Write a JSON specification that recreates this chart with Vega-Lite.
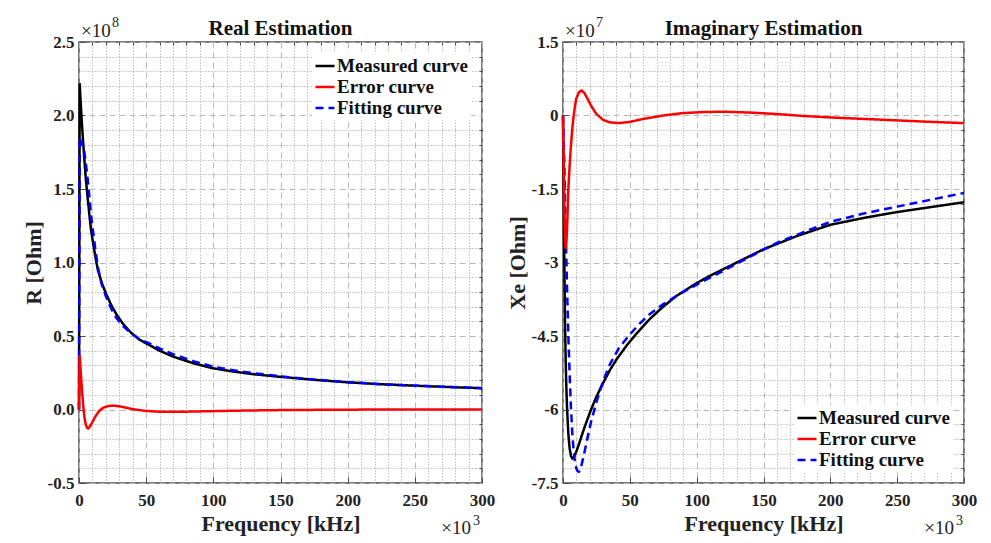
{
  "$schema": "https://vega.github.io/schema/vega-lite/v6.json",
  "padding": {"left": 21, "top": 15, "right": 5, "bottom": 2},
  "background": "white",
  "datasets": {
    "real": [
      {"series": "Measured curve", "freq": 0, "value": 0},
      {"series": "Measured curve", "freq": 0.5, "value": 2.22},
      {"series": "Measured curve", "freq": 1, "value": 2.13},
      {"series": "Measured curve", "freq": 2, "value": 1.97},
      {"series": "Measured curve", "freq": 3, "value": 1.83},
      {"series": "Measured curve", "freq": 4, "value": 1.70},
      {"series": "Measured curve", "freq": 5, "value": 1.58},
      {"series": "Measured curve", "freq": 6, "value": 1.48},
      {"series": "Measured curve", "freq": 7, "value": 1.39},
      {"series": "Measured curve", "freq": 8, "value": 1.30},
      {"series": "Measured curve", "freq": 9, "value": 1.22},
      {"series": "Measured curve", "freq": 10, "value": 1.16},
      {"series": "Measured curve", "freq": 12, "value": 1.05},
      {"series": "Measured curve", "freq": 14, "value": 0.95},
      {"series": "Measured curve", "freq": 17, "value": 0.86},
      {"series": "Measured curve", "freq": 20, "value": 0.79},
      {"series": "Measured curve", "freq": 24, "value": 0.71},
      {"series": "Measured curve", "freq": 28, "value": 0.645},
      {"series": "Measured curve", "freq": 33, "value": 0.58},
      {"series": "Measured curve", "freq": 39, "value": 0.52},
      {"series": "Measured curve", "freq": 45, "value": 0.475},
      {"series": "Measured curve", "freq": 52, "value": 0.44},
      {"series": "Measured curve", "freq": 60, "value": 0.40},
      {"series": "Measured curve", "freq": 70, "value": 0.36},
      {"series": "Measured curve", "freq": 85, "value": 0.315},
      {"series": "Measured curve", "freq": 100, "value": 0.28},
      {"series": "Measured curve", "freq": 115, "value": 0.258},
      {"series": "Measured curve", "freq": 130, "value": 0.24},
      {"series": "Measured curve", "freq": 150, "value": 0.222},
      {"series": "Measured curve", "freq": 175, "value": 0.202},
      {"series": "Measured curve", "freq": 200, "value": 0.185},
      {"series": "Measured curve", "freq": 225, "value": 0.172},
      {"series": "Measured curve", "freq": 250, "value": 0.162},
      {"series": "Measured curve", "freq": 275, "value": 0.153},
      {"series": "Measured curve", "freq": 300, "value": 0.145},
      {"series": "Fitting curve", "freq": 0, "value": 0},
      {"series": "Fitting curve", "freq": 0.5, "value": 1.85},
      {"series": "Fitting curve", "freq": 1, "value": 1.83},
      {"series": "Fitting curve", "freq": 2, "value": 1.81},
      {"series": "Fitting curve", "freq": 3, "value": 1.79},
      {"series": "Fitting curve", "freq": 4, "value": 1.75},
      {"series": "Fitting curve", "freq": 5, "value": 1.68},
      {"series": "Fitting curve", "freq": 6, "value": 1.605},
      {"series": "Fitting curve", "freq": 7, "value": 1.52},
      {"series": "Fitting curve", "freq": 8, "value": 1.42},
      {"series": "Fitting curve", "freq": 9, "value": 1.32},
      {"series": "Fitting curve", "freq": 10, "value": 1.245},
      {"series": "Fitting curve", "freq": 12, "value": 1.10},
      {"series": "Fitting curve", "freq": 14, "value": 0.97},
      {"series": "Fitting curve", "freq": 17, "value": 0.85},
      {"series": "Fitting curve", "freq": 20, "value": 0.77},
      {"series": "Fitting curve", "freq": 24, "value": 0.686},
      {"series": "Fitting curve", "freq": 28, "value": 0.62},
      {"series": "Fitting curve", "freq": 33, "value": 0.565},
      {"series": "Fitting curve", "freq": 39, "value": 0.516},
      {"series": "Fitting curve", "freq": 45, "value": 0.48},
      {"series": "Fitting curve", "freq": 52, "value": 0.451},
      {"series": "Fitting curve", "freq": 60, "value": 0.415},
      {"series": "Fitting curve", "freq": 70, "value": 0.376},
      {"series": "Fitting curve", "freq": 85, "value": 0.329},
      {"series": "Fitting curve", "freq": 100, "value": 0.291},
      {"series": "Fitting curve", "freq": 115, "value": 0.267},
      {"series": "Fitting curve", "freq": 130, "value": 0.247},
      {"series": "Fitting curve", "freq": 150, "value": 0.226},
      {"series": "Fitting curve", "freq": 175, "value": 0.204},
      {"series": "Fitting curve", "freq": 200, "value": 0.186},
      {"series": "Fitting curve", "freq": 225, "value": 0.172},
      {"series": "Fitting curve", "freq": 250, "value": 0.162},
      {"series": "Fitting curve", "freq": 275, "value": 0.153},
      {"series": "Fitting curve", "freq": 300, "value": 0.145},
      {"series": "Error curve", "freq": 0, "value": 0},
      {"series": "Error curve", "freq": 0.5, "value": 0.37},
      {"series": "Error curve", "freq": 1, "value": 0.30},
      {"series": "Error curve", "freq": 2, "value": 0.16},
      {"series": "Error curve", "freq": 3, "value": 0.04},
      {"series": "Error curve", "freq": 4, "value": -0.05},
      {"series": "Error curve", "freq": 5, "value": -0.10},
      {"series": "Error curve", "freq": 6, "value": -0.125},
      {"series": "Error curve", "freq": 7, "value": -0.128},
      {"series": "Error curve", "freq": 8, "value": -0.118},
      {"series": "Error curve", "freq": 10, "value": -0.085},
      {"series": "Error curve", "freq": 12, "value": -0.05},
      {"series": "Error curve", "freq": 15, "value": -0.01},
      {"series": "Error curve", "freq": 18, "value": 0.012},
      {"series": "Error curve", "freq": 22, "value": 0.024},
      {"series": "Error curve", "freq": 26, "value": 0.026},
      {"series": "Error curve", "freq": 30, "value": 0.022},
      {"series": "Error curve", "freq": 35, "value": 0.012},
      {"series": "Error curve", "freq": 40, "value": 0.002},
      {"series": "Error curve", "freq": 50, "value": -0.01},
      {"series": "Error curve", "freq": 60, "value": -0.015},
      {"series": "Error curve", "freq": 70, "value": -0.016},
      {"series": "Error curve", "freq": 85, "value": -0.014},
      {"series": "Error curve", "freq": 100, "value": -0.011},
      {"series": "Error curve", "freq": 125, "value": -0.007},
      {"series": "Error curve", "freq": 150, "value": -0.004},
      {"series": "Error curve", "freq": 200, "value": -0.001},
      {"series": "Error curve", "freq": 250, "value": 0.0},
      {"series": "Error curve", "freq": 300, "value": 0.0}
    ],
    "imag": [
      {"series": "Measured curve", "freq": 0, "value": 0},
      {"series": "Measured curve", "freq": 0.5, "value": -1.6},
      {"series": "Measured curve", "freq": 1, "value": -3.0},
      {"series": "Measured curve", "freq": 1.5, "value": -4.2},
      {"series": "Measured curve", "freq": 2, "value": -5.0},
      {"series": "Measured curve", "freq": 2.5, "value": -5.55},
      {"series": "Measured curve", "freq": 3, "value": -5.95},
      {"series": "Measured curve", "freq": 4, "value": -6.5},
      {"series": "Measured curve", "freq": 5, "value": -6.8},
      {"series": "Measured curve", "freq": 6, "value": -6.95},
      {"series": "Measured curve", "freq": 7, "value": -7.0},
      {"series": "Measured curve", "freq": 8, "value": -6.98},
      {"series": "Measured curve", "freq": 10, "value": -6.86},
      {"series": "Measured curve", "freq": 12, "value": -6.7},
      {"series": "Measured curve", "freq": 15, "value": -6.45},
      {"series": "Measured curve", "freq": 18, "value": -6.22},
      {"series": "Measured curve", "freq": 21, "value": -6.0},
      {"series": "Measured curve", "freq": 25, "value": -5.74},
      {"series": "Measured curve", "freq": 30, "value": -5.46},
      {"series": "Measured curve", "freq": 35, "value": -5.2},
      {"series": "Measured curve", "freq": 40, "value": -4.98},
      {"series": "Measured curve", "freq": 48, "value": -4.68},
      {"series": "Measured curve", "freq": 55, "value": -4.45},
      {"series": "Measured curve", "freq": 65, "value": -4.15},
      {"series": "Measured curve", "freq": 75, "value": -3.9},
      {"series": "Measured curve", "freq": 85, "value": -3.68},
      {"series": "Measured curve", "freq": 100, "value": -3.42},
      {"series": "Measured curve", "freq": 110, "value": -3.27},
      {"series": "Measured curve", "freq": 130, "value": -3.0},
      {"series": "Measured curve", "freq": 150, "value": -2.73},
      {"series": "Measured curve", "freq": 175, "value": -2.46},
      {"series": "Measured curve", "freq": 200, "value": -2.23},
      {"series": "Measured curve", "freq": 225, "value": -2.09},
      {"series": "Measured curve", "freq": 250, "value": -1.97},
      {"series": "Measured curve", "freq": 275, "value": -1.87},
      {"series": "Measured curve", "freq": 300, "value": -1.77},
      {"series": "Fitting curve", "freq": 0, "value": 0},
      {"series": "Fitting curve", "freq": 0.5, "value": -0.5},
      {"series": "Fitting curve", "freq": 1, "value": -1.0},
      {"series": "Fitting curve", "freq": 2, "value": -2.3},
      {"series": "Fitting curve", "freq": 3, "value": -3.5},
      {"series": "Fitting curve", "freq": 4, "value": -4.5},
      {"series": "Fitting curve", "freq": 5, "value": -5.3},
      {"series": "Fitting curve", "freq": 6, "value": -6.0},
      {"series": "Fitting curve", "freq": 7, "value": -6.5},
      {"series": "Fitting curve", "freq": 8, "value": -6.85},
      {"series": "Fitting curve", "freq": 9, "value": -7.08},
      {"series": "Fitting curve", "freq": 10, "value": -7.2},
      {"series": "Fitting curve", "freq": 11, "value": -7.26},
      {"series": "Fitting curve", "freq": 12, "value": -7.27},
      {"series": "Fitting curve", "freq": 13, "value": -7.22},
      {"series": "Fitting curve", "freq": 14, "value": -7.12},
      {"series": "Fitting curve", "freq": 16, "value": -6.88},
      {"series": "Fitting curve", "freq": 18, "value": -6.62},
      {"series": "Fitting curve", "freq": 21, "value": -6.25},
      {"series": "Fitting curve", "freq": 25, "value": -5.85},
      {"series": "Fitting curve", "freq": 30, "value": -5.42},
      {"series": "Fitting curve", "freq": 35, "value": -5.08},
      {"series": "Fitting curve", "freq": 42, "value": -4.74},
      {"series": "Fitting curve", "freq": 50, "value": -4.47},
      {"series": "Fitting curve", "freq": 57.6, "value": -4.24},
      {"series": "Fitting curve", "freq": 65, "value": -4.05},
      {"series": "Fitting curve", "freq": 75, "value": -3.85},
      {"series": "Fitting curve", "freq": 90, "value": -3.6},
      {"series": "Fitting curve", "freq": 105, "value": -3.38},
      {"series": "Fitting curve", "freq": 120, "value": -3.17},
      {"series": "Fitting curve", "freq": 140, "value": -2.88},
      {"series": "Fitting curve", "freq": 160, "value": -2.6},
      {"series": "Fitting curve", "freq": 180, "value": -2.38},
      {"series": "Fitting curve", "freq": 200, "value": -2.17},
      {"series": "Fitting curve", "freq": 225, "value": -2.0},
      {"series": "Fitting curve", "freq": 250, "value": -1.86},
      {"series": "Fitting curve", "freq": 275, "value": -1.72},
      {"series": "Fitting curve", "freq": 300, "value": -1.58},
      {"series": "Error curve", "freq": 0, "value": 0},
      {"series": "Error curve", "freq": 0.5, "value": -1.0},
      {"series": "Error curve", "freq": 1, "value": -1.9},
      {"series": "Error curve", "freq": 1.5, "value": -2.5},
      {"series": "Error curve", "freq": 2, "value": -2.72},
      {"series": "Error curve", "freq": 2.5, "value": -2.6},
      {"series": "Error curve", "freq": 3, "value": -2.35},
      {"series": "Error curve", "freq": 4, "value": -1.5},
      {"series": "Error curve", "freq": 5, "value": -1.0},
      {"series": "Error curve", "freq": 6, "value": -0.6},
      {"series": "Error curve", "freq": 7, "value": -0.25},
      {"series": "Error curve", "freq": 8, "value": 0.0},
      {"series": "Error curve", "freq": 9, "value": 0.2},
      {"series": "Error curve", "freq": 10, "value": 0.35},
      {"series": "Error curve", "freq": 12, "value": 0.48},
      {"series": "Error curve", "freq": 14, "value": 0.51},
      {"series": "Error curve", "freq": 16, "value": 0.46},
      {"series": "Error curve", "freq": 18, "value": 0.36},
      {"series": "Error curve", "freq": 21, "value": 0.2},
      {"series": "Error curve", "freq": 25, "value": 0.03},
      {"series": "Error curve", "freq": 30, "value": -0.09},
      {"series": "Error curve", "freq": 35, "value": -0.14},
      {"series": "Error curve", "freq": 42, "value": -0.155},
      {"series": "Error curve", "freq": 50, "value": -0.13},
      {"series": "Error curve", "freq": 60, "value": -0.07},
      {"series": "Error curve", "freq": 75, "value": 0.0},
      {"series": "Error curve", "freq": 90, "value": 0.05},
      {"series": "Error curve", "freq": 105, "value": 0.07},
      {"series": "Error curve", "freq": 120, "value": 0.078},
      {"series": "Error curve", "freq": 140, "value": 0.06},
      {"series": "Error curve", "freq": 160, "value": 0.03},
      {"series": "Error curve", "freq": 180, "value": -0.01},
      {"series": "Error curve", "freq": 200, "value": -0.04},
      {"series": "Error curve", "freq": 225, "value": -0.07},
      {"series": "Error curve", "freq": 250, "value": -0.1},
      {"series": "Error curve", "freq": 275, "value": -0.13},
      {"series": "Error curve", "freq": 300, "value": -0.155}
    ]
  },
  "hconcat": [
    {
      "width": 403,
      "height": 441,
      "title": {"text": "Real Estimation"},
      "layer": [
        {
          "data": {"name": "real"},
          "mark": {"type": "line", "opacity": 0},
          "encoding": {
            "x": {"field": "freq", "type": "quantitative", "scale": {"domain": [0, 300], "nice": false, "zero": false},
              "axis": {"orient": "top", "values": [10,20,30,40,60,70,80,90,110,120,130,140,160,170,180,190,210,220,230,240,260,270,280,290], "grid": true, "gridDash": [1, 2], "gridColor": "#9a9a9a", "labels": false, "tickSize": -3, "title": null}},
            "y": {"field": "value", "type": "quantitative", "scale": {"domain": [-0.5, 2.5], "nice": false, "zero": false},
              "axis": {"orient": "right", "values": [-0.4,-0.3,-0.2,-0.1,0.1,0.2,0.3,0.4,0.6,0.7,0.8,0.9,1.1,1.2,1.3,1.4,1.6,1.7,1.8,1.9,2.1,2.2,2.3,2.4], "grid": true, "gridDash": [1, 2], "gridColor": "#9a9a9a", "labels": false, "tickSize": -3, "title": null}}
          }
        },
        {
          "data": {"name": "real"},
          "mark": {"type": "line", "strokeWidth": 2.5},
          "encoding": {
            "x": {"field": "freq", "type": "quantitative", "scale": {"domain": [0, 300], "nice": false, "zero": false},
              "axis": {"orient": "bottom", "values": [0,50,100,150,200,250,300], "grid": true, "gridDash": [6, 4], "gridColor": "#b8b8b8", "tickSize": -6, "labelPadding": 15, "title": "Frequency [kHz]", "titlePadding": 5}},
            "y": {"field": "value", "type": "quantitative", "scale": {"domain": [-0.5, 2.5], "nice": false, "zero": false},
              "axis": {"orient": "left", "values": [-0.5,0,0.5,1,1.5,2,2.5], "labelExpr": "replace(format(datum.value, '.1f'), '\u2212', '-')", "grid": true, "gridDash": [6, 4], "gridColor": "#b8b8b8", "tickSize": -6, "labelPadding": 11, "title": "R [Ohm]", "titlePadding": 2}},
            "color": {"field": "series", "type": "nominal", "scale": {"domain": ["Measured curve", "Error curve", "Fitting curve"], "range": ["#000000", "#ff0000", "#0000ff"]},
              "legend": {"title": null, "orient": "top-right", "offset": 11}},
            "strokeDash": {"field": "series", "type": "nominal", "scale": {"domain": ["Measured curve", "Error curve", "Fitting curve"], "range": [[1, 0], [1, 0], [8, 5]]},
              "legend": {"title": null, "orient": "top-right", "offset": 11}}
          }
        },
        {
          "data": {"values": [{"freq": 0, "value": 2.5}]},
          "mark": {"type": "text", "text": "×10", "align": "left", "baseline": "alphabetic", "dx": 2, "dy": -5, "fontSize": 19, "color": "#222222"},
          "encoding": {
            "x": {"field": "freq", "type": "quantitative", "axis": null},
            "y": {"field": "value", "type": "quantitative", "axis": null}
          }
        },
        {
          "data": {"values": [{"freq": 0, "value": 2.5}]},
          "mark": {"type": "text", "text": "8", "align": "left", "baseline": "alphabetic", "dx": 33, "dy": -15, "fontSize": 14, "color": "#222222"},
          "encoding": {
            "x": {"field": "freq", "type": "quantitative", "axis": null},
            "y": {"field": "value", "type": "quantitative", "axis": null}
          }
        },
        {
          "data": {"values": [{"freq": 300, "value": -0.5}]},
          "mark": {"type": "text", "text": "×10", "align": "right", "baseline": "alphabetic", "dx": -11, "dy": 51, "fontSize": 19, "color": "#222222"},
          "encoding": {
            "x": {"field": "freq", "type": "quantitative", "axis": null},
            "y": {"field": "value", "type": "quantitative", "axis": null}
          }
        },
        {
          "data": {"values": [{"freq": 300, "value": -0.5}]},
          "mark": {"type": "text", "text": "3", "align": "right", "baseline": "alphabetic", "dx": -2, "dy": 42, "fontSize": 14, "color": "#222222"},
          "encoding": {
            "x": {"field": "freq", "type": "quantitative", "axis": null},
            "y": {"field": "value", "type": "quantitative", "axis": null}
          }
        }
      ],
      "resolve": {"axis": {"x": "independent", "y": "independent"}}
    },
    {
      "width": 401,
      "height": 441,
      "title": {"text": "Imaginary Estimation"},
      "layer": [
        {
          "data": {"name": "imag"},
          "mark": {"type": "line", "opacity": 0},
          "encoding": {
            "x": {"field": "freq", "type": "quantitative", "scale": {"domain": [0, 300], "nice": false, "zero": false},
              "axis": {"orient": "top", "values": [10,20,30,40,60,70,80,90,110,120,130,140,160,170,180,190,210,220,230,240,260,270,280,290], "grid": true, "gridDash": [1, 2], "gridColor": "#9a9a9a", "labels": false, "tickSize": -3, "title": null}},
            "y": {"field": "value", "type": "quantitative", "scale": {"domain": [-7.5, 1.5], "nice": false, "zero": false},
              "axis": {"orient": "right", "values": [1.2,0.9,0.6,0.3,-0.3,-0.6,-0.9,-1.2,-1.8,-2.1,-2.4,-2.7,-3.3,-3.6,-3.9,-4.2,-4.8,-5.1,-5.4,-5.7,-6.3,-6.6,-6.9,-7.2], "grid": true, "gridDash": [1, 2], "gridColor": "#9a9a9a", "labels": false, "tickSize": -3, "title": null}}
          }
        },
        {
          "data": {"name": "imag"},
          "mark": {"type": "line", "strokeWidth": 2.5},
          "encoding": {
            "x": {"field": "freq", "type": "quantitative", "scale": {"domain": [0, 300], "nice": false, "zero": false},
              "axis": {"orient": "bottom", "values": [0,50,100,150,200,250,300], "grid": true, "gridDash": [6, 4], "gridColor": "#b8b8b8", "tickSize": -6, "labelPadding": 15, "title": "Frequency [kHz]", "titlePadding": 5}},
            "y": {"field": "value", "type": "quantitative", "scale": {"domain": [-7.5, 1.5], "nice": false, "zero": false},
              "axis": {"orient": "left", "values": [-7.5,-6,-4.5,-3,-1.5,0,1.5], "labelExpr": "toString(datum.value)", "grid": true, "gridDash": [6, 4], "gridColor": "#b8b8b8", "tickSize": -6, "labelPadding": 11, "title": "Xe [Ohm]", "titlePadding": 2}},
            "color": {"field": "series", "type": "nominal", "scale": {"domain": ["Measured curve", "Error curve", "Fitting curve"], "range": ["#000000", "#ff0000", "#0000ff"]},
              "legend": {"title": null, "orient": "bottom-right", "offset": 11}},
            "strokeDash": {"field": "series", "type": "nominal", "scale": {"domain": ["Measured curve", "Error curve", "Fitting curve"], "range": [[1, 0], [1, 0], [8, 5]]},
              "legend": {"title": null, "orient": "bottom-right", "offset": 11}}
          }
        },
        {
          "data": {"values": [{"freq": 0, "value": 1.5}]},
          "mark": {"type": "text", "text": "×10", "align": "left", "baseline": "alphabetic", "dx": 2, "dy": -5, "fontSize": 19, "color": "#222222"},
          "encoding": {
            "x": {"field": "freq", "type": "quantitative", "axis": null},
            "y": {"field": "value", "type": "quantitative", "axis": null}
          }
        },
        {
          "data": {"values": [{"freq": 0, "value": 1.5}]},
          "mark": {"type": "text", "text": "7", "align": "left", "baseline": "alphabetic", "dx": 33, "dy": -15, "fontSize": 14, "color": "#222222"},
          "encoding": {
            "x": {"field": "freq", "type": "quantitative", "axis": null},
            "y": {"field": "value", "type": "quantitative", "axis": null}
          }
        },
        {
          "data": {"values": [{"freq": 300, "value": -7.5}]},
          "mark": {"type": "text", "text": "×10", "align": "right", "baseline": "alphabetic", "dx": -10, "dy": 51, "fontSize": 19, "color": "#222222"},
          "encoding": {
            "x": {"field": "freq", "type": "quantitative", "axis": null},
            "y": {"field": "value", "type": "quantitative", "axis": null}
          }
        },
        {
          "data": {"values": [{"freq": 300, "value": -7.5}]},
          "mark": {"type": "text", "text": "3", "align": "right", "baseline": "alphabetic", "dx": -1, "dy": 42, "fontSize": 14, "color": "#222222"},
          "encoding": {
            "x": {"field": "freq", "type": "quantitative", "axis": null},
            "y": {"field": "value", "type": "quantitative", "axis": null}
          }
        }
      ],
      "resolve": {"axis": {"x": "independent", "y": "independent"}}
    }
  ],
  "spacing": 81,
  "bounds": "flush",
  "resolve": {"legend": {"color": "independent", "strokeDash": "independent"}},
  "config": {
    "font": "Liberation Serif",
    "view": {"stroke": "#4d4d4d", "strokeWidth": 1.5},
    "axis": {
      "labelFont": "Liberation Serif", "labelFontWeight": "bold", "labelFontSize": 17, "labelColor": "#222222",
      "titleFont": "Liberation Serif", "titleFontWeight": "bold", "titleFontSize": 22, "titleColor": "#222222",
      "domain": false, "tickColor": "#4d4d4d", "tickWidth": 1, "gridWidth": 1, "labelFlush": false, "labelOverlap": false
    },
    "legend": {
      "labelFont": "Liberation Serif", "labelFontWeight": "bold", "labelFontSize": 19, "labelColor": "#111111",
      "symbolType": "stroke", "symbolSize": 360, "symbolStrokeWidth": 2.5, "labelOffset": 1,
      "fillColor": "white", "padding": 2, "rowPadding": 0, "labelLimit": 300
    },
    "title": {"font": "Liberation Serif", "fontSize": 21, "fontWeight": "bold", "color": "#111111", "frame": "group", "offset": -23, "anchor": "middle"},
    "text": {"font": "Liberation Serif"}
  }
}
